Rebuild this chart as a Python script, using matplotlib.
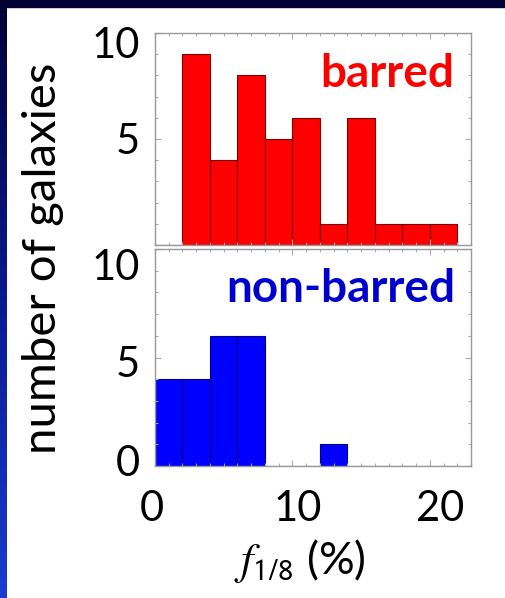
import numpy as np
import matplotlib.pyplot as plt
from matplotlib.colors import LinearSegmentedColormap
from matplotlib.ticker import MultipleLocator
from matplotlib.transforms import ScaledTranslation

# histogram counts, bins 2 % wide
bin_edges = [0, 2, 4, 6, 8, 10, 12, 14, 16, 18, 20, 22]
barred_counts = [0, 9, 4, 8, 5, 6, 1, 6, 1, 1, 1]
nonbarred_counts = [4, 4, 6, 6, 0, 0, 1, 0, 0, 0, 0]

W, H = 505, 598
fig = plt.figure(figsize=(W / 100, H / 100), dpi=100)
fig.patch.set_facecolor("white")

# slide background: dark band on top, blue gradient down the left side
bg = fig.add_axes([0, 0, 1, 1], zorder=-1)
bg.set_xlim(0, W)
bg.set_ylim(H, 0)
bg.axis("off")
grad = np.linspace(0, 1, 256).reshape(-1, 1)
cmap = LinearSegmentedColormap.from_list("slide", ["#000035", "#0a1a90", "#1a3cd0"])
bg.imshow(grad, extent=[0, 7, H, 0], aspect="auto", cmap=cmap)
bg.add_patch(plt.Rectangle((0, 0), W, 7, color="#000035"))


def shift(label, dx, dy):
    # nudge a tick label by dx, dy pixels
    label.set_transform(label.get_transform() +
                        ScaledTranslation(dx / 100, dy / 100, fig.dpi_scale_trans))


def style_axes(ax, yticks):
    ax.set_xlim(0, 23)
    ax.set_ylim(0, 10)
    for s in ax.spines.values():
        s.set_color("#999999")
        s.set_linewidth(1.0)
    ax.set_xticks([0, 10, 20])
    ax.xaxis.set_minor_locator(MultipleLocator(1))
    ax.set_yticks(yticks)
    ax.yaxis.set_minor_locator(MultipleLocator(1))
    ax.tick_params(which="both", direction="in", top=True, right=True,
                   color="#aaaaaa", width=0.8)
    ax.tick_params(which="major", length=4)
    ax.tick_params(which="minor", length=2.5)
    ax.tick_params(axis="y", labelsize=30, pad=11)
    ax.tick_params(axis="x", labelsize=30, pad=17)
    for lab in ax.get_xticklabels() + ax.get_yticklabels():
        lab.set_fontfamily("Lato")


ax1 = fig.add_axes([155 / W, 1 - 245 / H, 316 / W, 212 / H])
ax2 = fig.add_axes([155 / W, 1 - 466 / H, 316 / W, 217 / H])

ax1.bar(bin_edges[:-1], barred_counts, width=2, align="edge",
        color="#ff0000", edgecolor="#7a0000", linewidth=0.8)
ax2.bar(bin_edges[:-1], nonbarred_counts, width=2, align="edge",
        color="#0000ff", edgecolor="#00007a", linewidth=0.8)

style_axes(ax1, [5, 10])
style_axes(ax2, [0, 5, 10])
ax1.tick_params(labelbottom=False)

fig.canvas.draw()
ylabs1 = ax1.get_yticklabels()
shift(ylabs1[1], 0, -10)
ylabs2 = ax2.get_yticklabels()
shift(ylabs2[0], 0, 6)
shift(ylabs2[1], 0, -4)
shift(ylabs2[2], 0, -16)
xlabs2 = ax2.get_xticklabels()
shift(xlabs2[0], -3, 0)
shift(xlabs2[1], 5, 0)
shift(xlabs2[2], 10, 0)

ax1.text(0.946, 0.745, "barred", transform=ax1.transAxes, ha="right",
         va="baseline", color="#ff0000", fontsize=33, fontweight="bold",
         family="Lato")
ax2.text(0.949, 0.756, "non-barred", transform=ax2.transAxes, ha="right",
         va="baseline", color="#0000cc", fontsize=33, fontweight="bold",
         family="Lato")

fig.text(0.085, 0.568, "number of galaxies", rotation=90, ha="center",
         va="center", fontsize=34, family="Lato")
plt.rcParams["mathtext.fontset"] = "stix"
fig.text(0.594, 0.062, r"$f_{\mathsf{1/8}}$ (%)", ha="center", va="center",
         fontsize=32, family="Lato")

fig.savefig("out.png", dpi=100)
